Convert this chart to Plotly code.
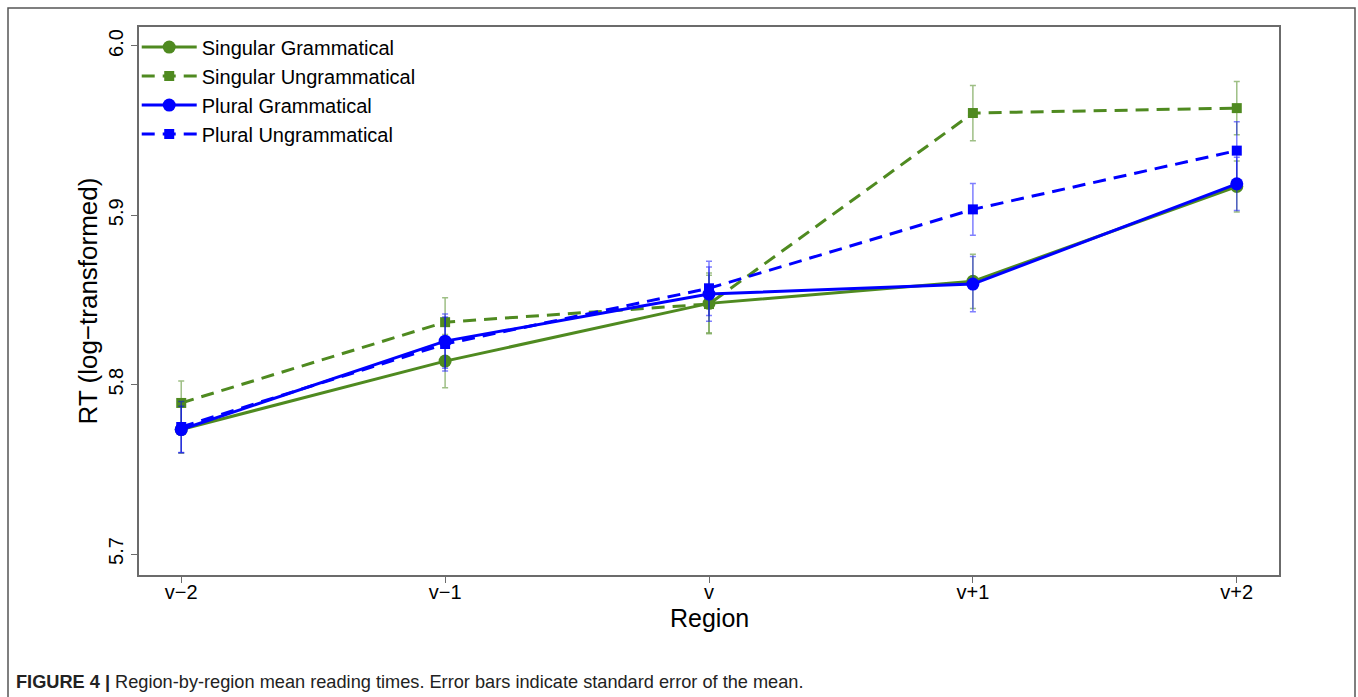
import plotly.graph_objects as go

# regions on the x axis
regions = ['v\u22122', 'v\u22121', 'v', 'v+1', 'v+2']

# mean log RT per condition
sing_gram = [5.7735, 5.8139, 5.8480, 5.8610, 5.9170]
sing_ungram = [5.7892, 5.8369, 5.8476, 5.9604, 5.9633]
plur_gram = [5.7735, 5.8257, 5.8535, 5.8594, 5.9186]
plur_ungram = [5.7750, 5.8240, 5.8569, 5.9035, 5.9382]

# standard errors
sing_gram_se = [0.014, 0.0157, 0.018, 0.016, 0.015]
sing_ungram_se = [0.013, 0.0144, 0.017, 0.0163, 0.0157]
plur_gram_se = [0.0137, 0.016, 0.016, 0.0163, 0.0157]
plur_ungram_se = [0.015, 0.016, 0.016, 0.0153, 0.017]

GREEN = '#4f8a20'
BLUE = '#0000ff'
GREEN_ERR = 'rgba(79,138,32,0.55)'
BLUE_ERR = 'rgba(0,0,255,0.5)'
FONT = 'Liberation Sans, Arial, sans-serif'

series = [
    ('Singular Grammatical', sing_gram, sing_gram_se, GREEN, GREEN_ERR, 'solid', 'circle', 13),
    ('Singular Ungrammatical', sing_ungram, sing_ungram_se, GREEN, GREEN_ERR, '13px,8px', 'square', 10),
    ('Plural Grammatical', plur_gram, plur_gram_se, BLUE, BLUE_ERR, 'solid', 'circle', 13),
    ('Plural Ungrammatical', plur_ungram, plur_ungram_se, BLUE, BLUE_ERR, '13px,8px', 'square', 10),
]

xpos = list(range(len(regions)))

fig = go.Figure()
for name, vals, se, col, ecol, dash, sym, size in series:
    fig.add_trace(go.Scatter(
        x=xpos, y=vals, name=name, mode='lines+markers',
        line=dict(color=col, width=3, dash=dash),
        marker=dict(color=col, symbol=sym, size=size),
        error_y=dict(type='data', array=se, color=ecol, thickness=1.5, width=3),
    ))

# plot box in pixels: x 139..1279, y 27..575
L, R, T, B = 139, 79, 27, 122
W, H = 1358, 697
pw, ph = W - L - R, H - T - B

def px_x(p):
    return (p - L) / pw

def px_y(p):
    return (H - B - p) / ph

# outer figure frame (top, left, right)
fig.add_shape(type='path', xref='paper', yref='paper',
              path=f'M {px_x(8)} {px_y(705)} L {px_x(8)} {px_y(8)} L {px_x(1355)} {px_y(8)} L {px_x(1355)} {px_y(705)}',
              line=dict(color='#555555', width=1.5))

# x axis title
fig.add_annotation(
    xref='paper', yref='paper', x=0.5, y=px_y(618), xanchor='center', yanchor='middle',
    text='Region', showarrow=False, font=dict(family=FONT, size=25, color='black'))

fig.add_annotation(
    xref='paper', yref='paper', x=px_x(14), y=px_y(682), xanchor='left', yanchor='middle',
    text='<b>FIGURE 4 |</b> Region-by-region mean reading times. Error bars indicate standard error of the mean.',
    showarrow=False, font=dict(family=FONT, size=18.2, color='#222222'))

fig.update_xaxes(
    tickvals=xpos, ticktext=regions, range=[-0.16, 4.16],
    showline=True, mirror=True, linecolor='#6b6b6b', linewidth=1.5,
    ticks='outside', ticklen=6, tickcolor='#6b6b6b', showgrid=False, zeroline=False,
    ticklabelstandoff=-8,
    tickfont=dict(family=FONT, size=20, color='black'),
)
fig.update_yaxes(
    tickvals=[5.7, 5.8, 5.9, 6.0], ticktext=['5.7', '5.8', '5.9', '6.0'],
    range=[5.6876, 6.0112], tickangle=-90,
    showline=True, mirror=True, linecolor='#6b6b6b', linewidth=1.5,
    ticks='outside', ticklen=6, tickcolor='#6b6b6b', showgrid=False, zeroline=False,
    tickfont=dict(family=FONT, size=20, color='black'),
    title=dict(text='RT (log\u2212transformed)', font=dict(family=FONT, size=26, color='black'), standoff=0),
)

fig.update_layout(
    width=W, height=H,
    margin=dict(l=L, r=R, t=T, b=B),
    paper_bgcolor='white', plot_bgcolor='white',
    font=dict(family=FONT),
    showlegend=True,
    legend=dict(x=-0.002, y=0.999, xanchor='left', yanchor='top',
                bgcolor='rgba(0,0,0,0)', itemwidth=55,
                font=dict(family=FONT, size=20, color='black'), tracegroupgap=0),
)

# drop the page's default body margin so the figure sits at the window origin
fig.write_html('out.html', config={'displayModeBar': False},
               post_script='document.body.style.margin="0";')
